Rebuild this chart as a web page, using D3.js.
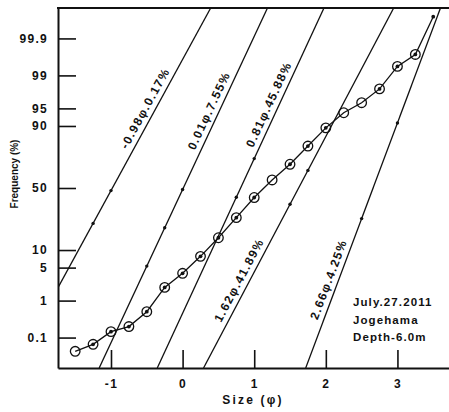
<!DOCTYPE html>
<html>
<head>
<meta charset="utf-8">
<script src="https://cdn.jsdelivr.net/npm/d3@7/dist/d3.min.js"></script>
<style>
  body { margin: 0; background: #fff; }
  text { font-family: "Liberation Sans", Arial, sans-serif; fill: #111; }
</style>
</head>
<body>
<svg id="chart" width="449" height="412"></svg>
<script>
// Cumulative grain-size curve (probability paper)
const sizePhi = [-1.5, -1.25, -1.0, -0.75, -0.5, -0.25, 0, 0.25, 0.5, 0.75, 1.0,
                 1.25, 1.5, 1.75, 2.0, 2.25, 2.5, 2.75, 3.0, 3.25, 3.5];
const cumulativePct = [0.037, 0.062, 0.15, 0.21, 0.53, 2.0, 3.9, 7.9, 15.2, 27.0, 42.2,
                       56.6, 68.8, 80.7, 89.3, 94.0, 96.1, 97.97, 99.40, 99.71, 99.98];

// Normal sub-populations: mean (phi), share (%), spread (phi)
const componentMeans  = [-0.98, 0.01, 0.81, 1.62, 2.66];
const componentShares = [0.17, 7.55, 45.88, 41.89, 4.25];
const componentSigmas = [0.369, 0.316, 0.313, 0.357, 0.253];
// sieve sizes marked with a dot on each sub-population line
const componentDots = [[-1.25, -1.0], [-0.5, -0.25, 0], [0.75, 1.0], [1.5, 1.75], [2.5, 3.0]];

const freqTicks = [0.1, 1, 5, 10, 50, 90, 95, 99, 99.9];
const sizeTicks = [-1, 0, 1, 2, 3];
const noteLines = ["July.27.2011", "Jogehama", "Depth-6.0m"];

// inverse standard normal CDF (Acklam's rational approximation)
function probit(p) {
  const a = [-3.969683028665376e+01, 2.209460984245205e+02, -2.759285104469687e+02,
             1.383577518672690e+02, -3.066479806614716e+01, 2.506628277459239e+00];
  const b = [-5.447609879822406e+01, 1.615858368580409e+02, -1.556989798598866e+02,
             6.680131188771972e+01, -1.328068155288572e+01];
  const c = [-7.784894002430293e-03, -3.223964580411365e-01, -2.400758277161838e+00,
             -2.549732539343734e+00, 4.374664141464968e+00, 2.938163982698783e+00];
  const d = [7.784695709041462e-03, 3.224671290700398e-01, 2.445134137142996e+00,
             3.754408661907416e+00];
  const pl = 0.02425, ph = 1 - pl;
  let q, r;
  if (p < pl) {
    q = Math.sqrt(-2 * Math.log(p));
    return (((((c[0]*q+c[1])*q+c[2])*q+c[3])*q+c[4])*q+c[5]) / ((((d[0]*q+d[1])*q+d[2])*q+d[3])*q+1);
  }
  if (p <= ph) {
    q = p - 0.5; r = q * q;
    return (((((a[0]*r+a[1])*r+a[2])*r+a[3])*r+a[4])*r+a[5])*q / (((((b[0]*r+b[1])*r+b[2])*r+b[3])*r+b[4])*r+1);
  }
  q = Math.sqrt(-2 * Math.log(1 - p));
  return -(((((c[0]*q+c[1])*q+c[2])*q+c[3])*q+c[4])*q+c[5]) / ((((d[0]*q+d[1])*q+d[2])*q+d[3])*q+1);
}

const plotL = 58, plotR = 449, plotT = 8, plotB = 368;
const svg = d3.select("#chart");

const x = d3.scaleLinear().domain([-1.74, 3.72]).range([plotL, plotR]);
const zLin = d3.scaleLinear().domain([probit(0.0001), probit(0.9999)]).range([plotB, plotT]);
// probability scale in percent, usable by d3 axes
const y = p => zLin(probit(p / 100));
y.range = () => zLin.range();
y.domain = () => [0.01, 99.99];
y.copy = () => y;
// pixel y for a standard-normal z
const yz = z => zLin(z);

svg.append("defs").append("clipPath").attr("id", "plotClip")
  .append("rect").attr("x", plotL).attr("y", plotT)
  .attr("width", plotR - plotL).attr("height", plotB - plotT);

const plot = svg.append("g").attr("clip-path", "url(#plotClip)");

// sub-population lines
const zMax = probit(0.9999);
const labelAtPct = [94, 93.5, 95, 2.3, 2.5];
componentMeans.forEach((m, i) => {
  const s = componentSigmas[i];
  const x0 = x(m - zMax * s), y0 = yz(-zMax);
  const x1 = x(m + zMax * s), y1 = yz(zMax);
  plot.append("line")
    .attr("x1", x0).attr("y1", y0).attr("x2", x1).attr("y2", y1)
    .attr("stroke", "#111").attr("stroke-width", 1.3);
  plot.selectAll(null).data(componentDots[i]).join("circle")
    .attr("cx", d => x(d)).attr("cy", d => yz((d - m) / s))
    .attr("r", 1.7).attr("fill", "#111");

  const angle = Math.atan2(y1 - y0, x1 - x0) * 180 / Math.PI;
  const zl = probit(labelAtPct[i] / 100);
  const lx = x(m + zl * s), ly = yz(zl);
  svg.append("text")
    .attr("transform", `translate(${lx},${ly}) rotate(${angle})`)
    .attr("dy", -5.5)
    .attr("text-anchor", "middle")
    .attr("font-size", 12).attr("font-weight", "bold")
    .attr("letter-spacing", 1.4)
    .text(`${m.toFixed(2)}φ.${componentShares[i].toFixed(2)}%`);
});

// measured cumulative curve
const pts = sizePhi.map((p, i) => [x(p), y(cumulativePct[i])]);
plot.append("path")
  .attr("d", d3.line()(pts))
  .attr("fill", "none").attr("stroke", "#111").attr("stroke-width", 1.3);

const openCircles = new Set([0, 11, 15, 16]);
const lastIdx = pts.length - 1;
plot.selectAll(".ring").data(pts.slice(0, lastIdx)).join("circle")
  .attr("class", "ring")
  .attr("cx", d => d[0]).attr("cy", d => d[1]).attr("r", 4.8)
  .attr("fill", "none").attr("stroke", "#111").attr("stroke-width", 1.3);
plot.selectAll(".pt").data(pts.filter((d, i) => !openCircles.has(i))).join("circle")
  .attr("class", "pt")
  .attr("cx", d => d[0]).attr("cy", d => d[1]).attr("r", 1.9).attr("fill", "#111");

// axes
const yAxis = d3.axisLeft(y).tickValues(freqTicks).tickFormat(d => String(d))
  .tickSizeInner(-18).tickSizeOuter(0).tickPadding(10);
const gy = svg.append("g").attr("transform", `translate(${plotL},0)`).call(yAxis);

const xAxis = d3.axisBottom(x).tickValues(sizeTicks).tickFormat(d => d < 0 ? "-" + Math.abs(d) : String(d))
  .tickSizeInner(-18).tickSizeOuter(0).tickPadding(11);
const gx = svg.append("g").attr("transform", `translate(0,${plotB})`).call(xAxis);

[gy, gx].forEach(g => {
  g.select(".domain").attr("stroke", "#111").attr("stroke-width", 2);
  g.selectAll(".tick line").attr("stroke", "#111").attr("stroke-width", 1.6);
  g.selectAll(".tick text").attr("font-size", 12).attr("font-weight", "bold")
    .attr("letter-spacing", 1.3).attr("fill", "#111")
    .style("font-family", '"Liberation Sans", Arial, sans-serif');
});

// top frame line
svg.append("line").attr("x1", plotL - 1).attr("x2", plotR).attr("y1", plotT).attr("y2", plotT)
  .attr("stroke", "#111").attr("stroke-width", 2);

// axis titles
svg.append("text")
  .attr("transform", `translate(18,174) rotate(-90)`)
  .attr("text-anchor", "middle")
  .attr("font-size", 10).attr("font-weight", "bold")
  .text("Frequency (%)");
svg.append("text")
  .attr("x", 253).attr("y", 404)
  .attr("text-anchor", "middle")
  .attr("font-size", 12).attr("font-weight", "bold")
  .attr("letter-spacing", 2.2)
  .text("Size (φ)");

// station note
svg.append("g").selectAll("text").data(noteLines).join("text")
  .attr("x", 353).attr("y", (d, i) => 306 + i * 17.5)
  .attr("font-size", 11.5).attr("font-weight", "bold")
  .attr("letter-spacing", 1.1)
  .text(d => d);
</script>
</body>
</html>
